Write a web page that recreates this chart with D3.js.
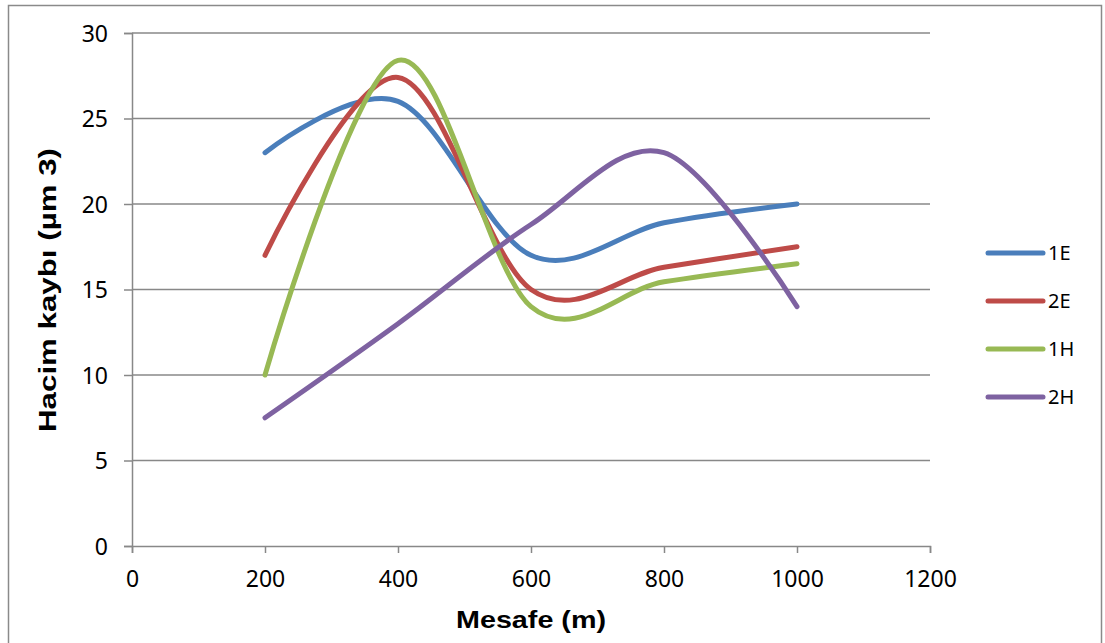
<!DOCTYPE html>
<html>
<head>
<meta charset="utf-8">
<script src="https://cdn.jsdelivr.net/npm/d3@7"></script>
<style>
  body { margin: 0; background: #fff; }
  svg { display: block; }
</style>
</head>
<body>
<svg width="1105" height="643"></svg>
<script>
// Data set
var mesafe = [200, 400, 600, 800, 1000];
var seriesNames = ["1E", "2E", "1H", "2H"];
var v1E = [23, 26, 17, 18.9, 20];
var v2E = [17, 27.4, 15, 16.3, 17.5];
var v1H = [10, 28.4, 14, 15.45, 16.5];
var v2H = [7.5, 13, 18.8, 23, 14];
var colors = ["#4a7ebb", "#be4b48", "#98b954", "#7e62a1"];
var xTicks = [0, 200, 400, 600, 800, 1000, 1200];
var yTicks = [0, 5, 10, 15, 20, 25, 30];

var allValues = [v1E, v2E, v1H, v2H];

var svg = d3.select("svg");

// outer frame
svg.append("rect")
  .attr("x", 8.5).attr("y", 5.5)
  .attr("width", 1093).attr("height", 660)
  .attr("fill", "#fff")
  .attr("stroke", "#8a8a8a")
  .attr("stroke-width", 1.5);

// Scaling function
var xScale = d3.scaleLinear().domain([0, 1200]).range([132, 930]);
var yScale = d3.scaleLinear().domain([0, 30]).range([546, 33]);

// gridlines
svg.append("g")
  .selectAll("line")
  .data(yTicks.filter(function(d) { return d > 0; }))
  .enter()
  .append("line")
  .attr("x1", xScale(0)).attr("x2", xScale(1200))
  .attr("y1", function(d) { return yScale(d); })
  .attr("y2", function(d) { return yScale(d); })
  .attr("stroke", "#888")
  .attr("stroke-width", 1.3);

// axes
var tickFont = "'Noto Sans', 'Open Sans', sans-serif";

var yAxis = svg.append("g")
  .attr("transform", "translate(" + xScale(0) + ",0)")
  .call(d3.axisLeft(yScale).tickValues(yTicks).tickSize(8).tickPadding(16).tickFormat(d3.format("d")));
var xAxis = svg.append("g")
  .attr("transform", "translate(0," + yScale(0) + ")")
  .call(d3.axisBottom(xScale).tickValues(xTicks).tickSize(7).tickPadding(18).tickFormat(d3.format("d")));

[xAxis, yAxis].forEach(function(ax) {
  ax.select(".domain").attr("stroke", "#888").attr("stroke-width", 1.5);
  ax.selectAll(".tick line").attr("stroke", "#888").attr("stroke-width", 1.5);
  ax.selectAll(".tick text")
    .attr("fill", "#000")
    .attr("font-family", tickFont)
    .attr("font-size", "23px");
});
yAxis.selectAll(".tick text").attr("dy", "0.36em");

// lines
var line = d3.line()
  .x(function(d, i) { return xScale(mesafe[i]); })
  .y(function(d) { return yScale(d); })
  .curve(d3.curveCardinal.tension(0));

for (var i = 0; i < allValues.length; i++) {
  svg.append("path")
    .datum(allValues[i])
    .attr("fill", "none")
    .attr("stroke", colors[i])
    .attr("stroke-width", 5)
    .attr("stroke-linecap", "round")
    .attr("stroke-linejoin", "round")
    .attr("d", line);
}

// legend
var legend = svg.append("g")
  .selectAll("g")
  .data(seriesNames)
  .enter()
  .append("g")
  .attr("transform", function(d, i) { return "translate(988," + (253 + i * 48) + ")"; });

legend.append("line")
  .attr("x1", 0).attr("x2", 55)
  .attr("stroke", function(d, i) { return colors[i]; })
  .attr("stroke-width", 5)
  .attr("stroke-linecap", "round");

legend.append("text")
  .attr("x", 60)
  .attr("dy", "0.36em")
  .attr("font-family", tickFont)
  .attr("font-size", "20px")
  .attr("fill", "#000")
  .text(function(d) { return d; });

// axis titles
svg.append("text")
  .attr("x", 531).attr("y", 628)
  .attr("text-anchor", "middle")
  .attr("font-family", "'Liberation Sans', Arial, sans-serif")
  .attr("font-weight", "bold")
  .attr("font-size", "24px")
  .attr("textLength", 150)
  .attr("lengthAdjust", "spacingAndGlyphs")
  .text("Mesafe (m)");

svg.append("text")
  .attr("transform", "translate(56,290) rotate(-90)")
  .attr("text-anchor", "middle")
  .attr("font-family", "'Liberation Sans', Arial, sans-serif")
  .attr("font-weight", "bold")
  .attr("font-size", "24px")
  .attr("textLength", 284)
  .attr("lengthAdjust", "spacingAndGlyphs")
  .text("Hacim kaybı (µm 3)");
</script>
</body>
</html>
